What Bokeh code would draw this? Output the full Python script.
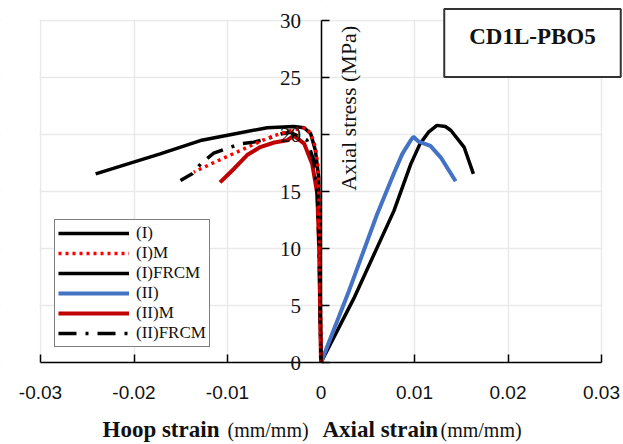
import math
from bokeh.plotting import figure
from bokeh.models import (LinearAxis, FixedTicker, Grid, Label, Legend, LegendItem, BoxAnnotation, Range1d)
from bokeh.embed import file_html
from bokeh.resources import INLINE

# ---------------- data ----------------
x_ticks = [-0.03, -0.02, -0.01, 0, 0.01, 0.02, 0.03]
x_tick_labels = ["-0.03", "-0.02", "-0.01", "0", "0.01", "0.02", "0.03"]
y_ticks = [0, 5, 10, 15, 20, 25, 30]
x_lim = (-0.03, 0.03)
y_lim = (0, 30)

# (I) axial strain (black, right side)
i_x = [0, 0.0035, 0.0078, 0.0096, 0.0106, 0.0115, 0.0124, 0.0133, 0.0139, 0.0153, 0.0163]
i_y = [0, 5.6, 13.3, 17.4, 19.2, 20.2, 20.8, 20.7, 20.35, 18.9, 16.55]

# (I)M hoop strain (red dotted)
im_x = [0, -0.0001, -0.0002, -0.0003, -0.0006, -0.0011, -0.00166, -0.003, -0.005, -0.0065, -0.0086, -0.0113, -0.0136]
im_y = [0, 8, 14, 17, 18.9, 20.1, 20.6, 20.4, 19.9, 19.4, 18.6, 17.6, 16.7]

# (I)FRCM hoop strain (black, left side)
ifr_x = [0, -0.0001, -0.00015, -0.00025, -0.0006, -0.0011, -0.0018, -0.0029, -0.00575, -0.0093, -0.0129, -0.0172, -0.0241]
ifr_y = [0, 5, 10, 16.25, 18.6, 20.06, 20.6, 20.7, 20.6, 20.05, 19.47, 18.3, 16.55]

# (II) axial strain (blue)
ii_x = [0, 0.003, 0.006, 0.0078, 0.0087, 0.0096, 0.0099, 0.0104, 0.0117, 0.0128, 0.0144]
ii_y = [0, 6.3, 13.0, 16.6, 18.3, 19.5, 19.8, 19.4, 19.0, 18.0, 15.9]

# (II)M hoop strain (dark red)
iim_x = [0, -0.0001, -0.0002, -0.0004, -0.00094, -0.0018, -0.0029, -0.0036, -0.005, -0.0065, -0.0079, -0.0093, -0.0108]
iim_y = [0, 5, 10, 14.8, 17.4, 19.2, 19.9, 19.5, 19.3, 18.9, 18.2, 17.0, 15.8]

# (II)FRCM hoop strain (black dash-dot)
iifr_x = [0, -0.0001, -0.0002, -0.0004, -0.00077, -0.0015, -0.0033, -0.0043, -0.00575, -0.0072, -0.0086, -0.0102, -0.01147, -0.0127, -0.01378, -0.01503]
iifr_y = [0, 5, 10, 14.8, 17.7, 19.5, 20.2, 20.05, 19.62, 19.33, 19.18, 18.74, 18.36, 17.57, 16.55, 15.96]

series_names = ["(I)", "(I)M", "(I)FRCM", "(II)", "(II)M", "(II)FRCM"]

# ---------------- layout (pixels) ----------------
W, H = 622, 443
PL, PR, PT, PB = 40, 601, 20, 362          # where the data box sits on the canvas
sx = (PR - PL) / (x_lim[1] - x_lim[0])      # px per x unit
sy = (PB - PT) / (y_lim[1] - y_lim[0])      # px per y unit
xr = Range1d(x_lim[0] - PL / sx, x_lim[1] + (W - PR) / sx)
yr = Range1d(y_lim[0] - (H - PB) / sy, y_lim[1] + PT / sy)

p = figure(width=W, height=H, x_range=xr, y_range=yr,
           output_backend="svg", toolbar_location=None,
           x_axis_location=None, y_axis_location=None,
           min_border_left=0, min_border_right=0, min_border_top=0, min_border_bottom=0)
p.outline_line_color = None
p.background_fill_color = "white"
p.border_fill_color = "white"

xticker = FixedTicker(ticks=x_ticks)
yticker = FixedTicker(ticks=y_ticks)

p.add_layout(Grid(dimension=0, ticker=xticker, grid_line_color="#e9e9e9", grid_line_width=1.5))
p.add_layout(Grid(dimension=1, ticker=yticker, grid_line_color="#e9e9e9", grid_line_width=1.5))
# keep grid inside the data box
mask = dict(fill_color="white", fill_alpha=1.0, line_color=None, level="underlay")
p.add_layout(BoxAnnotation(top=y_lim[0], **mask))
p.add_layout(BoxAnnotation(bottom=y_lim[1] + 1 / sy, **mask))
p.add_layout(BoxAnnotation(left=x_lim[1] + 1 / sx, **mask))
p.add_layout(BoxAnnotation(right=x_lim[0] - 1 / sx, **mask))

xaxis = LinearAxis(fixed_location=0, bounds=x_lim, ticker=xticker,
                   major_label_overrides=dict(zip(x_ticks, x_tick_labels)),
                   major_tick_in=8, major_tick_out=0, minor_tick_line_color=None,
                   axis_line_color="black", axis_line_width=1.5, major_tick_line_width=1.5,
                   major_tick_line_color="black", major_label_standoff=23,
                   major_label_text_font="Liberation Sans", major_label_text_font_size="19px",
                   major_label_text_color="#111111")
p.add_layout(xaxis, "below")

yaxis = LinearAxis(fixed_location=0, bounds=y_lim, ticker=yticker,
                   major_tick_in=8, major_tick_out=0, minor_tick_line_color=None,
                   axis_line_color="black", axis_line_width=1.5, major_tick_line_width=1.5,
                   major_tick_line_color="black", major_label_standoff=20,
                   major_label_text_font="Liberation Serif", major_label_text_font_size="21px",
                   major_label_text_color="#111111")
p.add_layout(yaxis, "left")

# ---------------- curves ----------------
r_i = p.line(i_x, i_y, line_color="black", line_width=3.5)
r_ii = p.line(ii_x, ii_y, line_color="#4472C4", line_width=4)
r_ifr = p.line(ifr_x, ifr_y, line_color="black", line_width=3.5)
r_iim = p.line(iim_x, iim_y, line_color="#C00000", line_width=4)
r_iifr = p.line(iifr_x, iifr_y, line_color="black", line_width=3.5, line_dash="18 9 3 9")
r_im = p.line(im_x, im_y, line_color="#FF0000", line_width=3.5, line_dash="3 4")

legend = Legend(items=[
    LegendItem(label=series_names[0], renderers=[r_i]),
    LegendItem(label=series_names[1], renderers=[r_im]),
    LegendItem(label=series_names[2], renderers=[r_ifr]),
    LegendItem(label=series_names[3], renderers=[r_ii]),
    LegendItem(label=series_names[4], renderers=[r_iim]),
    LegendItem(label=series_names[5], renderers=[r_iifr]),
], location=(54, 96), padding=3, spacing=0, margin=0,
   label_height=20, glyph_height=20, glyph_width=71, label_standoff=7,
   label_text_font="Liberation Serif", label_text_font_size="17px", label_text_color="#111111",
   border_line_color="black", border_line_width=1.5, background_fill_color="white",
   background_fill_alpha=1.0)
p.add_layout(legend)

# ---------------- texts ----------------
p.add_layout(Label(x=0.00294, y=22.3, text="Axial stress (MPa)", angle=math.pi / 2,
                   text_align="center", text_baseline="middle",
                   text_font="Liberation Serif", text_font_size="22px", text_color="#111111"))

p.add_layout(Label(x=0.02262, y=28.03, text="CD1L-PBO5", text_align="center", text_baseline="middle",
                   text_font="Liberation Serif", text_font_style="bold", text_font_size="23px",
                   text_color="#111111", border_line_color="#333333", border_line_width=2,
                   background_fill_color="white",
                   padding=dict(left=25, right=25, top=15, bottom=28)))

base_y = (PB - 429) / sy
p.add_layout(Label(x=-0.02337, y=base_y, text="Hoop strain", text_baseline="middle",
                   text_font="Liberation Serif", text_font_style="bold", text_font_size="23px",
                   text_color="#111111"))
p.add_layout(Label(x=-0.0100, y=base_y, text="(mm/mm)", text_baseline="middle",
                   text_font="Liberation Serif", text_font_size="20px", text_color="#111111"))
p.add_layout(Label(x=0.00016, y=base_y, text="Axial strain", text_baseline="middle",
                   text_font="Liberation Serif", text_font_style="bold", text_font_size="23px",
                   text_color="#111111"))
p.add_layout(Label(x=0.01278, y=base_y, text="(mm/mm)", text_baseline="middle",
                   text_font="Liberation Serif", text_font_size="20px", text_color="#111111"))

open("out.html", "w").write(file_html(p, INLINE))
